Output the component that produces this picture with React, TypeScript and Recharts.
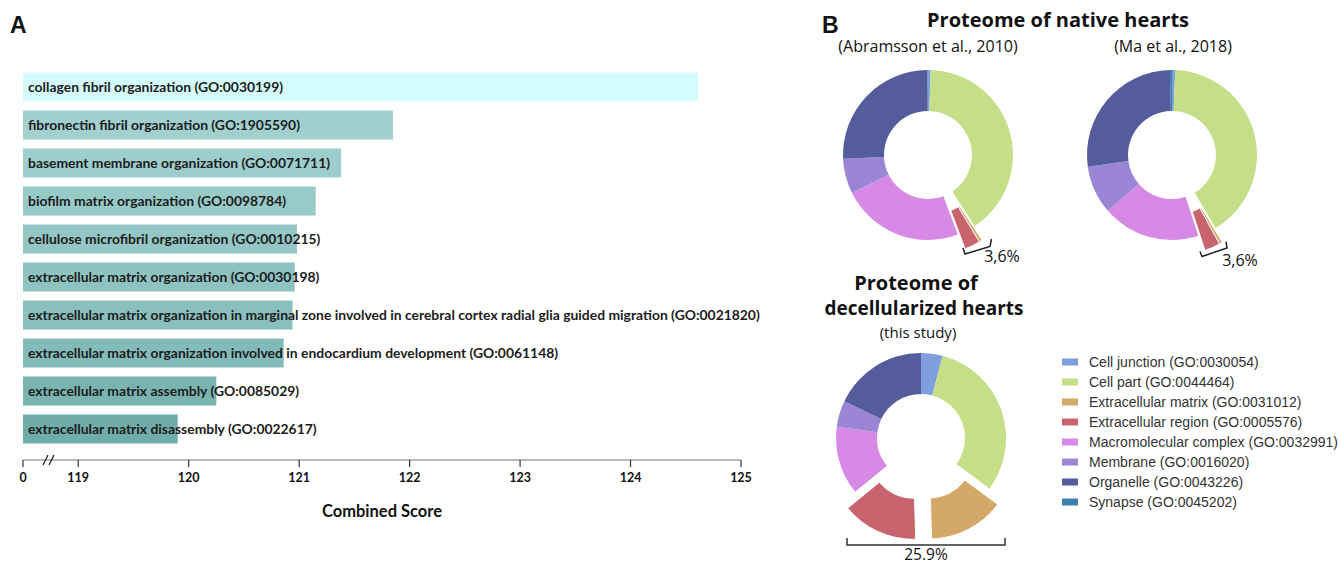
import React from 'react';
import { BarChart, Bar, XAxis, YAxis, Cell, LabelList, PieChart, Pie } from 'recharts';

// ---------- Panel A data ----------
const goTerms = [
  'collagen fibril organization (GO:0030199)',
  'fibronectin fibril organization (GO:1905590)',
  'basement membrane organization (GO:0071711)',
  'biofilm matrix organization (GO:0098784)',
  'cellulose microfibril organization (GO:0010215)',
  'extracellular matrix organization (GO:0030198)',
  'extracellular matrix organization in marginal zone involved in cerebral cortex radial glia guided migration (GO:0021820)',
  'extracellular matrix organization involved in endocardium development (GO:0061148)',
  'extracellular matrix assembly (GO:0085029)',
  'extracellular matrix disassembly (GO:0022617)',
];
const combinedScores = [124.61, 121.85, 121.38, 121.15, 120.98, 120.96, 120.94, 120.86, 120.25, 119.9];
const barColors = ['#d5fcfd', '#a1d0cf', '#9dcdcc', '#98cac8', '#93c6c4', '#8ec3c1', '#89bfbc', '#83bbb8', '#7ab4b1', '#70aca9'];
// first tick stands for the broken-axis origin ("0")
const axisTicks = [118.5, 119, 120, 121, 122, 123, 124, 125];
const axisTickLabels = ['0', '119', '120', '121', '122', '123', '124', '125'];

// ---------- Panel B data ----------
const componentNames = [
  'Cell junction (GO:0030054)',
  'Cell part (GO:0044464)',
  'Extracellular matrix (GO:0031012)',
  'Extracellular region (GO:0005576)',
  'Macromolecular complex (GO:0032991)',
  'Membrane (GO:0016020)',
  'Organelle (GO:0043226)',
  'Synapse (GO:0045202)',
];
const componentColors = ['#7f9fdc', '#c5de88', '#d4a869', '#c8646e', '#d68ae6', '#9a86d4', '#545c9b', '#3d7fae'];
const abramssonShares = [0.5, 40.2, 0.6, 3.0, 23.3, 6.7, 25.6, 0.1];
const maShares = [0.6, 40.8, 0.6, 3.0, 18.6, 9.2, 26.8, 0.4];
const thisStudyShares = [4.1, 31.0, 14.5, 14.5, 13.0, 5.0, 17.9, 0];

const barData = goTerms.map((name, i) => ({ name, score: combinedScores[i] }));

const toPieData = (shares: number[]) => shares.map((v, i) => ({ name: componentNames[i], value: v }));

const explodeOffset = (shares: number[], idx: number[], dist: number) => {
  const total = shares.reduce((a, b) => a + b, 0);
  let start = 0;
  for (let i = 0; i < idx[0]; i++) start += shares[i];
  const span = idx.reduce((a, i) => a + shares[i], 0);
  const mid = ((start + span / 2) / total) * 2 * Math.PI;
  return { dx: dist * Math.sin(mid), dy: -dist * Math.cos(mid) };
};

const AxisTick = (props: any) => {
  const { x, y, payload, index } = props;
  return (
    <g>
      <text x={x} y={y} dy={12} textAnchor="middle" fontFamily="Lato" fontWeight={700} fontSize={12.5} fill="#111">
        {axisTickLabels[index] ?? String(payload.value)}
      </text>
      {index === 0 && (
        <path
          d={`M${x + 20},${y - 5} L${x + 25},${y - 15} M${x + 26},${y - 5} L${x + 31},${y - 15}`}
          stroke="#222"
          strokeWidth={1.3}
          fill="none"
        />
      )}
    </g>
  );
};

const BarText = (props: any) => {
  const { x, y, height, value } = props;
  return (
    <text
      x={Number(x) + 5}
      y={Number(y) + Number(height) / 2}
      dy="0.35em"
      fontFamily="Lato"
      fontWeight={700}
      fontSize={13.9}
      fill="#1c1c1c"
    >
      {value}
    </text>
  );
};

const IN_R = 44;
const OUT_R = 85;

const DonutGroup = ({ shares, cx, cy, explodeGroups, dist }: { shares: number[]; cx: number; cy: number; explodeGroups: number[][]; dist: number }) => {
  const data = toPieData(shares);
  const exploded = explodeGroups.flat();
  const layers = [
    <Pie
      key="base"
      data={data}
      dataKey="value"
      nameKey="name"
      cx={cx}
      cy={cy}
      innerRadius={IN_R}
      outerRadius={OUT_R}
      startAngle={90}
      endAngle={-270}
      stroke="none"
      isAnimationActive={false}
    >
      {data.map((d, i) => (
        <Cell key={i} fill={exploded.includes(i) ? 'transparent' : componentColors[i]} />
      ))}
    </Pie>,
  ];
  explodeGroups.forEach((g, gi) => {
    const { dx, dy } = explodeOffset(shares, g, dist);
    layers.push(
      <Pie
        key={'ex' + gi}
        data={data}
        dataKey="value"
        nameKey="name"
        cx={cx + dx}
        cy={cy + dy}
        innerRadius={IN_R}
        outerRadius={OUT_R}
        startAngle={90}
        endAngle={-270}
        isAnimationActive={false}
      >
        {data.map((d, i) => (
          <Cell
            key={i}
            fill={g.includes(i) ? componentColors[i] : 'transparent'}
            stroke={g.includes(i) ? '#fff' : 'none'}
            strokeWidth={g.includes(i) ? 1 : 0}
          />
        ))}
      </Pie>
    );
  });
  return layers;
};

const P_LEFT = 820;
const pie1 = { cx: 108, cy: 155 };
const pie2 = { cx: 352, cy: 155 };
const pie3 = { cx: 101, cy: 438 };

export default function App() {
  return (
    <div style={{ position: 'absolute', left: 0, top: 0, width: 1340, height: 565, background: '#fff', overflow: 'hidden' }}>
      <div style={{ position: 'absolute', left: 0, top: 0 }}>
        <BarChart
          width={790}
          height={540}
          data={barData}
          layout="vertical"
          margin={{ top: 67.5, right: 49, bottom: 20, left: 23 }}
        >
          <XAxis
            type="number"
            dataKey="score"
            domain={[118.5, 125]}
            ticks={axisTicks}
            interval={0}
            allowDataOverflow
            height={60}
            tickSize={7}
            tickMargin={3}
            tick={<AxisTick />}
            axisLine={{ stroke: '#777', strokeWidth: 1.2 }}
            tickLine={{ stroke: '#333', strokeWidth: 1.2 }}
            label={{
              value: 'Combined Score',
              position: 'insideBottom',
              offset: 3,
              style: { fontFamily: 'Lato', fontWeight: 700, fontSize: 16.5, fill: '#111' },
            }}
          />
          <YAxis type="category" dataKey="name" hide padding={{ top: 0, bottom: 12.5 }} />
          <Bar dataKey="score" barSize={29} isAnimationActive={false}>
            {barData.map((d, i) => (
              <Cell key={i} fill={barColors[i]} />
            ))}
            <LabelList dataKey="name" content={<BarText />} />
          </Bar>
        </BarChart>
      </div>

      <div style={{ position: 'absolute', left: P_LEFT, top: 0 }}>
        <PieChart width={520} height={565} margin={{ top: 0, right: 0, bottom: 0, left: 0 }}>
          {DonutGroup({ shares: abramssonShares, cx: pie1.cx, cy: pie1.cy, explodeGroups: [[2, 3]], dist: 16 })}
          {DonutGroup({ shares: maShares, cx: pie2.cx, cy: pie2.cy, explodeGroups: [[2, 3]], dist: 16 })}
          {DonutGroup({ shares: thisStudyShares, cx: pie3.cx, cy: pie3.cy, explodeGroups: [[2], [3]], dist: 18 })}
        </PieChart>
      </div>

      <svg width={1340} height={565} style={{ position: 'absolute', left: 0, top: 0, pointerEvents: 'none', overflow: 'visible' }}>
        <text x={10} y={33} fontFamily="Liberation Sans" fontWeight={700} fontSize={23} fill="#111">A</text>
        <text x={822} y={33} fontFamily="Liberation Sans" fontWeight={700} fontSize={23} fill="#111">B</text>

        <text x={1058} y={27} textAnchor="middle" fontFamily="Open Sans" fontWeight={700} fontSize={20} fill="#111">Proteome of native hearts</text>
        <text x={928} y={52} textAnchor="middle" fontFamily="Open Sans" fontSize={16} fill="#111">(Abramsson et al., 2010)</text>
        <text x={1173} y={52} textAnchor="middle" fontFamily="Open Sans" fontSize={16} fill="#111">(Ma et al., 2018)</text>

        <text x={916} y={290} textAnchor="middle" fontFamily="Open Sans" fontWeight={700} fontSize={20} fill="#111">Proteome of</text>
        <text x={924} y={315} textAnchor="middle" fontFamily="Open Sans" fontWeight={700} fontSize={19} fill="#111">decellularized hearts</text>
        <text x={918} y={338} textAnchor="middle" fontFamily="Open Sans" fontSize={15} fill="#111">(this study)</text>

        {/* brackets */}
        <path
          d={`M${P_LEFT + pie1.cx + 35},${pie1.cy + 93} L${P_LEFT + pie1.cx + 37},${pie1.cy + 99} L${P_LEFT + pie1.cx + 62},${pie1.cy + 91.5} L${P_LEFT + pie1.cx + 63.5},${pie1.cy + 84}`}
          stroke="#222" strokeWidth={1.5} fill="none"
        />
        <text x={P_LEFT + pie1.cx + 74} y={pie1.cy + 107} textAnchor="middle" fontFamily="Open Sans" fontSize={16} fill="#111">3,6%</text>
        <path
          d={`M${P_LEFT + pie2.cx + 28},${pie2.cy + 96.5} L${P_LEFT + pie2.cx + 30},${pie2.cy + 101.5} L${P_LEFT + pie2.cx + 55},${pie2.cy + 93} L${P_LEFT + pie2.cx + 54},${pie2.cy + 86.5}`}
          stroke="#222" strokeWidth={1.5} fill="none"
        />
        <text x={P_LEFT + pie2.cx + 68} y={pie2.cy + 111} textAnchor="middle" fontFamily="Open Sans" fontSize={16} fill="#111">3,6%</text>
        <path d={`M847,538 V545 H1005 V538`} stroke="#333" strokeWidth={1.5} fill="none" />
        <text x={926} y={560} textAnchor="middle" fontFamily="Open Sans" fontSize={15.5} fill="#111">25.9%</text>

        {/* legend */}
        {componentNames.map((n, i) => (
          <g key={n}>
            <rect x={1062} y={362 + 20 * i - 3.5} width={16} height={7} fill={componentColors[i]} />
            <text x={1089} y={362 + 20 * i + 5} fontFamily="Liberation Sans" fontSize={14} fill="#333">{n}</text>
          </g>
        ))}
      </svg>
    </div>
  );
}
